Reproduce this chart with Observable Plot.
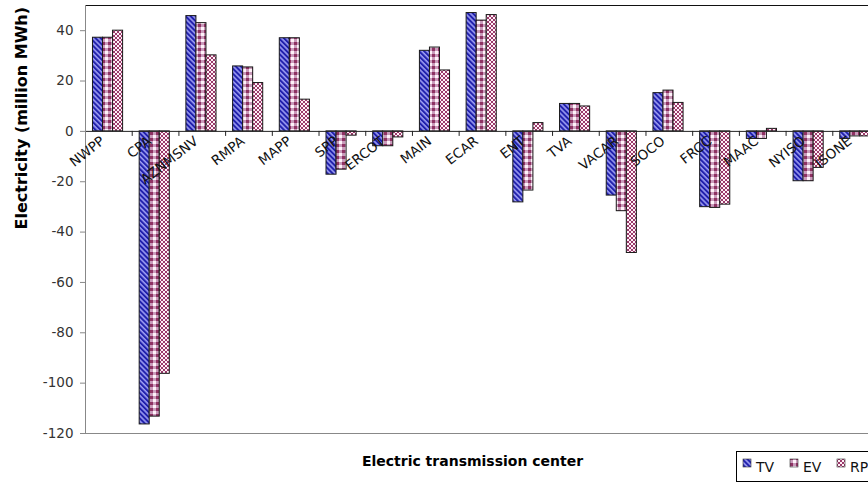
<!DOCTYPE html>
<html>
<head>
<meta charset="utf-8">
<script src="https://cdn.jsdelivr.net/npm/d3@7"></script>
<script src="https://cdn.jsdelivr.net/npm/@observablehq/plot@0.6"></script>
<style>
  html, body { margin: 0; padding: 0; background: #fff; overflow: hidden; width: 868px; height: 483px; }
  #chart { position: relative; width: 880px; height: 483px; }
  #legend { position: absolute; left: 736px; top: 451px; overflow: visible; }
</style>
</head>
<body>
<div id="chart"></div>
<script>
// Net electricity by transmission center, three cases (million MWh)
const regions = ["NWPP", "CPA", "AZNMSNV", "RMPA", "MAPP", "SPP", "ERCOT", "MAIN", "ECAR", "ENT",
                 "TVA", "VACAR", "SOCO", "FRCC", "MAAC", "NYISO", "ISONE"];
const series = ["TV", "EV", "RP"];
const tv = [37.2, -116.4, 45.8, 25.8, 37.0, -17.2, -5.9, 32.0, 47.0, -28.2, 10.9, -25.5, 15.2, -30.1, -3.0, -19.8, -3.0];
const ev = [37.2, -113.3, 43.0, 25.4, 37.0, -15.2, -5.9, 33.3, 44.0, -23.5, 10.9, -31.7, 16.2, -30.4, -3.0, -19.8, -2.0];
const rp = [40.0, -96.3, 30.2, 19.2, 12.6, -1.7, -2.4, 24.2, 46.2, 3.3, 9.9, -48.3, 11.3, -29.1, 1.0, -14.5, -2.0];
const yTicks = [-120, -100, -80, -60, -40, -20, 0, 20, 40];
const yTitle = "Electricity (million MWh)";
const xTitle = "Electric transmission center";

const valuesBySeries = {TV: tv, EV: ev, RP: rp};
const fills = {TV: "url(#pat-tv)", EV: "url(#pat-ev)", RP: "url(#pat-rp)"};

// hatch / checker / dot fills shared by the bars and the legend
const defs = d3.select("body").insert("svg", ":first-child")
  .attr("width", 0).attr("height", 0).style("position", "absolute").append("defs");

const pTv = defs.append("pattern").attr("id", "pat-tv").attr("patternUnits", "userSpaceOnUse")
  .attr("width", 3.6).attr("height", 3.6).attr("patternTransform", "rotate(-45)");
pTv.append("rect").attr("width", 3.6).attr("height", 3.6).attr("fill", "#9c9cf2");
pTv.append("rect").attr("width", 2).attr("height", 3.6).attr("fill", "#2020ac");

const pEv = defs.append("pattern").attr("id", "pat-ev").attr("patternUnits", "userSpaceOnUse")
  .attr("width", 6).attr("height", 6);
pEv.append("rect").attr("width", 6).attr("height", 6).attr("fill", "#c99bbb");
pEv.append("rect").attr("width", 3).attr("height", 3).attr("fill", "#8f3263");
pEv.append("rect").attr("x", 3).attr("y", 3).attr("width", 3).attr("height", 3).attr("fill", "#fff2f9");

const pRp = defs.append("pattern").attr("id", "pat-rp").attr("patternUnits", "userSpaceOnUse")
  .attr("width", 4).attr("height", 4);
pRp.append("rect").attr("width", 4).attr("height", 4).attr("fill", "#fff0f7");
[[1, 0, 2, 1], [0, 1, 1, 2], [3, 1, 1, 2], [1, 3, 2, 1]].forEach(([x, y, w, h]) =>
  pRp.append("rect").attr("x", x).attr("y", y).attr("width", w).attr("height", h).attr("fill", "#9b3a6b"));

// clustered bars: each region owns one unit of x, the three cases sit side by side inside it
const BAR_START = 0.16, BAR_W = 0.215;
const rows = series.flatMap((s, k) =>
  regions.map((r, i) => ({region: r, i, k, series: s, value: valuesBySeries[s][i]})));

const chart = Plot.plot({
  width: 880,
  height: 483,
  marginTop: 5,
  marginBottom: 50,
  marginLeft: 85,
  marginRight: 1,
  x: {domain: [0, regions.length], axis: null},
  y: {domain: [-120, 50], axis: null},
  style: {fontFamily: "DejaVu Sans", background: "white", overflow: "visible"},
  marks: [
    Plot.ruleY([50], {stroke: "#111"}),
    Plot.ruleY([-120], {stroke: "#888"}),
    ...series.map(s => Plot.rect(rows.filter(d => d.series === s), {
      x1: d => d.i + BAR_START + d.k * BAR_W,
      x2: d => d.i + BAR_START + (d.k + 1) * BAR_W,
      y1: () => 0,
      y2: "value",
      fill: fills[s],
      stroke: "#1a1a1a",
      strokeWidth: 1
    })),
    Plot.ruleY([0], {stroke: "#222"}),
    Plot.ruleX(d3.range(1, regions.length + 1), {y1: () => 0, y2: () => -2, stroke: "#222"}),
    Plot.ruleX([0], {stroke: "#888"}),
    Plot.axisY({ticks: yTicks, tickSize: 5, tickPadding: 7, tickFormat: d => String(d),
                stroke: "#888", fill: "#333", fontSize: 13.5, label: null}),
    Plot.text(regions, {x: (d, i) => i + 0.5, y: () => 0, text: d => d, rotate: -38,
                        textAnchor: "end", dx: -6, dy: 8, fontSize: 13.5, fill: "#111"}),
    Plot.text([yTitle], {frameAnchor: "left", rotate: -90, dx: -63.5, dy: 10,
                         fontWeight: "bold", fontSize: 16, fill: "#000"}),
    Plot.text([xTitle], {frameAnchor: "bottom", dx: -10, dy: 32,
                         fontWeight: "bold", fontSize: 14, fill: "#000"})
  ]
});
document.getElementById("chart").appendChild(chart);

// legend box along the bottom right
const legend = d3.select("#chart").append("svg").attr("id", "legend")
  .attr("width", 200).attr("height", 32);
legend.append("rect").attr("x", 0.5).attr("y", 0.5).attr("width", 199).attr("height", 30)
  .attr("fill", "#fff").attr("stroke", "#000");
series.forEach((s, k) => {
  const g = legend.append("g").attr("transform", `translate(${7 + k * 47},0)`);
  g.append("rect").attr("x", 0).attr("y", 8).attr("width", 8).attr("height", 8)
    .attr("fill", fills[s]).attr("stroke", "#333").attr("stroke-width", 0.6);
  g.append("text").attr("x", 13).attr("y", 21).text(s)
    .attr("font-family", "DejaVu Sans").attr("font-size", 14).attr("fill", "#111");
});
</script>
</body>
</html>
